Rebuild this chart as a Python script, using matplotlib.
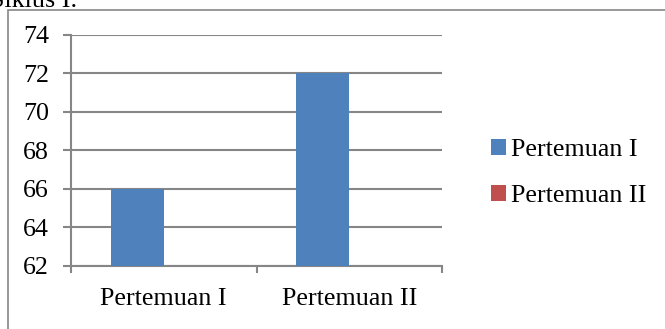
import numpy as np
import matplotlib.pyplot as plt
from matplotlib.patches import Rectangle

categories = ["Pertemuan I", "Pertemuan II"]
series_names = ["Pertemuan I", "Pertemuan II"]
series_1 = [66, 72]
series_2 = [0, 0]
y_ticks = [62, 64, 66, 68, 70, 72, 74]

plt.rcParams["font.family"] = ["Liberation Serif", "DejaVu Serif"]
W, H = 665, 329
fig = plt.figure(figsize=(W / 100, H / 100), dpi=100)

# outer frame of the embedded chart (runs off the right/bottom edge)
fig.patches.append(Rectangle((8 / W, -0.1), 1.0, (H - 10) / H + 0.1,
                             transform=fig.transFigure, fill=False,
                             edgecolor="#868686", linewidth=1.2))
# clipped caption above the chart
fig.text(77 / W, 1 - 7 / H, "Siklus I.", ha="right", va="baseline",
         fontsize=18.7, color="black")

ax = fig.add_axes([71 / W, (H - 266) / H, (442 - 71) / W, (266 - 35) / H])
x = np.arange(len(categories))
w = 0.2857
ax.bar(x - w / 2, series_1, w, color="#4F81BD", label=series_names[0], zorder=3)
ax.bar(x + w / 2, series_2, w, color="#C0504D", label=series_names[1], zorder=3)

ax.set_ylim(62, 74)
ax.set_xlim(-0.5, len(categories) - 0.5)
ax.set_yticks(y_ticks)
ax.set_xticks(x)
ax.set_xticklabels(categories)
ax.set_xticks(np.arange(len(categories) + 1) - 0.5, minor=True)
ax.yaxis.grid(True, color="#868686", linewidth=1.5, zorder=0)
for s in ["top", "right"]:
    ax.spines[s].set_visible(False)
for s in ["left", "bottom"]:
    ax.spines[s].set_color("#868686")
    ax.spines[s].set_linewidth(1.5)
ax.tick_params(axis="y", direction="out", length=6, width=1.5, color="#868686",
               labelsize=18.7, pad=10)
ax.tick_params(axis="x", which="major", length=0, labelsize=18.7, pad=16)
ax.tick_params(axis="x", which="minor", direction="out", length=5, width=1.5,
               color="#868686")

fig.legend(loc="center left", bbox_to_anchor=(468 / W, 1 - 173 / H),
           frameon=False, fontsize=18.7, handlelength=0.55, handleheight=0.55,
           handletextpad=0.2, labelspacing=0.93)

fig.savefig("out.png", dpi=100)
